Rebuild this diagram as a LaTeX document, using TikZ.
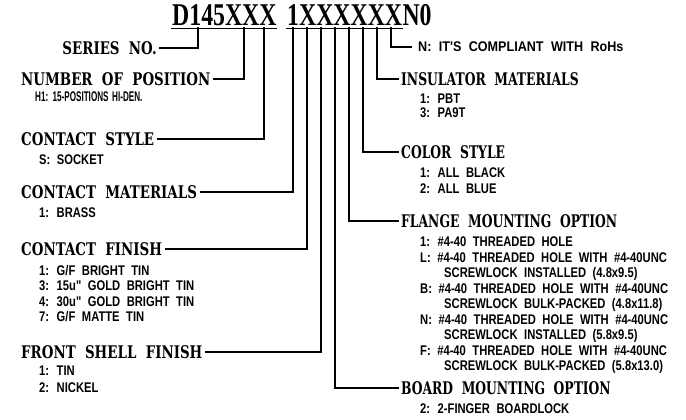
\documentclass[tikz,border=0pt]{standalone}
\usepackage{fontspec}
\usepackage{tikz}
\usetikzlibrary{positioning}
\newfontfamily\partfont{Liberation Serif}[FakeStretch=0.75]
\newfontfamily\headfont{DejaVu Serif}[FakeStretch=0.77,WordSpace=2]
\newfontfamily\headfontR{DejaVu Serif}[FakeStretch=0.71,WordSpace=2]
\newfontfamily\optfont{Liberation Sans}[FakeStretch=0.80,WordSpace=2.1]
\newfontfamily\optfontW{Liberation Sans}[FakeStretch=0.90,WordSpace=2.1]
\newfontfamily\optfontN{Liberation Sans}[FakeStretch=0.58,WordSpace=1.6]
\tikzset{
  part/.style={font=\partfont\bfseries\fontsize{31.7}{34}\selectfont, inner sep=0pt, anchor=base west},
  head/.style={font=\headfont\bfseries\fontsize{17.4}{19}\selectfont, inner xsep=3pt, inner ysep=0pt},
  headR/.style={head, font=\headfontR\bfseries\fontsize{17.4}{19}\selectfont},
  opts/.style={font=\optfont\bfseries\fontsize{14}{15.5}\selectfont, align=left, inner sep=0pt},
  lead/.style={line width=1.2pt, line cap=rect}
}
\begin{document}
\begin{tikzpicture}[x=1pt,y=-1pt]
  \useasboundingbox (0,0) rectangle (686,420);
  % part number
  \node[part] (partA) at (172,26) {D145XXX};
  \node[part] (partB) at (287,26) {1XXXXXX};
  \node[part] (partN) at (partB.base east) {N0};
  \draw[lead] ([yshift=-2pt]partA.south west) -- ([yshift=-2pt]partA.south east);
  \draw[lead] ([yshift=-2pt]partB.south west) -- ([yshift=-2pt]partB.south east);
  % leader feet under the code
  \coordinate (pSeries) at (198,28);
  \coordinate (pPos)    at (244,28);
  \coordinate (pStyle)  at (264,28);
  \coordinate (pMat)    at (293,28);
  \coordinate (pFin)    at (307,28);
  \coordinate (pShell)  at (321,28);
  \coordinate (pBoard)  at (335,28);
  \coordinate (pFlange) at (349,28);
  \coordinate (pColor)  at (363,28);
  \coordinate (pInsul)  at (377,28);
  \coordinate (pRohs)   at (391,28);
  % left side
  \node[head,anchor=east] (series) at (160,48) {SERIES NO.};
  \node[head,anchor=west] (numpos) at (18,79) {NUMBER OF POSITION};
  \node[opts,font=\optfontN\bfseries\fontsize{14}{15}\selectfont,
        below right=13pt and 17pt of numpos.west] (numposOpt) {H1: 15-POSITIONS HI-DEN.};
  \node[head,anchor=west] (cstyle) at (18,139) {CONTACT STYLE};
  \node[opts,below right=16pt and 21pt of cstyle.west] (cstyleOpt) {S: SOCKET};
  \node[head,anchor=west] (cmat) at (18,192) {CONTACT MATERIALS};
  \node[opts,below right=16pt and 21pt of cmat.west] (cmatOpt) {1: BRASS};
  \node[head,anchor=west] (cfin) at (18,249) {CONTACT FINISH};
  \node[opts,below right=16pt and 21pt of cfin.west] (cfinOpt)
    {1: G/F BRIGHT TIN\\3: 15u" GOLD BRIGHT TIN\\4: 30u" GOLD BRIGHT TIN\\7: G/F MATTE TIN};
  \node[head,anchor=west] (shell) at (18,352) {FRONT SHELL FINISH};
  \node[opts,below right=14pt and 21pt of shell.west] (shellOpt) {1: TIN\\[1pt]2: NICKEL};
  % right side
  \node[opts,font=\optfontW\bfseries\fontsize{14}{15.5}\selectfont,
        anchor=west,inner xsep=7pt] (rohs) at (411,47) {N: IT'S COMPLIANT WITH RoHs};
  \node[headR,anchor=west] (insul) at (398,79) {INSULATOR MATERIALS};
  \node[opts,below right=15pt and 22pt of insul.west] (insulOpt) {1: PBT\\[-2pt]3: PA9T};
  \node[headR,anchor=west] (colorSt) at (398,152) {COLOR STYLE};
  \node[opts,below right=16pt and 22pt of colorSt.west] (colorOpt) {1: ALL BLACK\\2: ALL BLUE};
  \node[headR,anchor=west] (flange) at (398,221) {FLANGE MOUNTING OPTION};
  \node[opts,below right=16pt and 22pt of flange.west] (flangeOpt)
    {1: \#4-40 THREADED HOLE\\
     L: \#4-40 THREADED HOLE WITH \#4-40UNC\\
     \hspace*{24pt}SCREWLOCK INSTALLED (4.8x9.5)\\
     B: \#4-40 THREADED HOLE WITH \#4-40UNC\\
     \hspace*{24pt}SCREWLOCK BULK-PACKED (4.8x11.8)\\
     N: \#4-40 THREADED HOLE WITH \#4-40UNC\\
     \hspace*{24pt}SCREWLOCK INSTALLED (5.8x9.5)\\
     F: \#4-40 THREADED HOLE WITH \#4-40UNC\\
     \hspace*{24pt}SCREWLOCK BULK-PACKED (5.8x13.0)};
  \node[headR,anchor=west] (board) at (398,388) {BOARD MOUNTING OPTION};
  \node[opts,below right=16pt and 22pt of board.west] (boardOpt) {2: 2-FINGER BOARDLOCK};
  % leaders
  \draw[lead] (pSeries) |- (series.east);
  \draw[lead] (pPos) |- (numpos.east);
  \draw[lead] (pStyle) |- (cstyle.east);
  \draw[lead] (pMat) |- (cmat.east);
  \draw[lead] (pFin) |- (cfin.east);
  \draw[lead] (pShell) |- (shell.east);
  \draw[lead] (pBoard) |- (board.west);
  \draw[lead] (pFlange) |- (flange.west);
  \draw[lead] (pColor) |- (colorSt.west);
  \draw[lead] (pInsul) |- (insul.west);
  \draw[lead] (pRohs) |- (rohs.west);
\end{tikzpicture}
\end{document}
